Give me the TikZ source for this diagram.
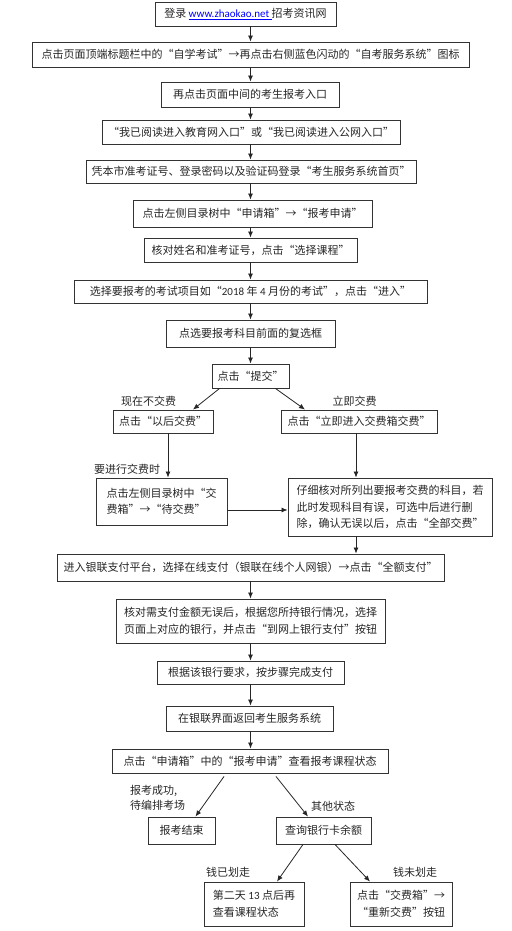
\documentclass[tikz,border=0pt]{standalone}
\usepackage{fontspec}
\newfontfamily\cjk{Noto Sans CJK SC}
\newfontfamily\numfont{Carlito}
\usetikzlibrary{arrows.meta,calc}

\begin{document}
\begin{tikzpicture}[x=1pt, y=-1pt,
    stepbox/.style={draw=black!80, line width=0.9pt, fill=white, inner sep=2pt, font=\cjk\fontsize{11}{16.5}\selectfont, text=black!85, align=#1},
    stepbox/.default={center},
    arr/.style={-{Latex[length=6pt,width=5pt]}, line width=0.8pt, black!85},
    lbl/.style={font=\cjk\fontsize{11}{15}\selectfont, text=black!85, inner sep=0pt, align=left},
]
\useasboundingbox (0,0) rectangle (511,931);
\coordinate (spine) at (250.5, 0);

% ===== MAIN STEPS =====
\node[stepbox, minimum width=181, minimum height=24] (login) at (245.5, 14) {登录 \textcolor{blue}{\underline{\numfont www.zhaokao.net\ }}招考资讯网};
\node[stepbox, minimum width=437, minimum height=25] (zixue) at (250.5, 54.5) {点击页面顶端标题栏中的“自学考试”→再点击右侧蓝色闪动的“自考服务系统”图标};
\node[stepbox, minimum width=178, minimum height=25] (entry) at (250, 94.5) {再点击页面中间的考生报考入口};
\node[stepbox, minimum width=298, minimum height=24] (readme) at (251, 132) {“我已阅读进入教育网入口”或“我已阅读进入公网入口”};
\node[stepbox, minimum width=330, minimum height=23] (signin) at (251, 171.5) {凭本市准考证号、登录密码以及验证码登录“考生服务系统首页”};
\node[stepbox, minimum width=239, minimum height=27] (applybox) at (252.5, 213.5) {点击左侧目录树中“申请箱”→“报考申请”};
\node[stepbox, minimum width=213, minimum height=24] (checkname) at (250.5, 250) {核对姓名和准考证号，点击“选择课程”};
\node[stepbox, minimum width=353, minimum height=23] (exam) at (250.5, 291.5) {选择要报考的考试项目如“{\numfont 2018} 年 {\numfont 4} 月份的考试”，点击“进入”};
\node[stepbox, minimum width=169, minimum height=27] (tick) at (250.5, 333.5) {点选要报考科目前面的复选框};
\node[stepbox, minimum width=77, minimum height=24] (submit) at (250.5, 376) {点击“提交”};

% ===== PAY LATER / PAY NOW =====
\node[stepbox, minimum width=100, minimum height=23] (later) at (163, 421.5) {点击“以后交费”};
\node[stepbox, minimum width=156, minimum height=23] (now) at (359, 421.5) {点击“立即进入交费箱交费”};
\node[stepbox=left, minimum width=131, minimum height=47] (waitpay) at (161.5, 501.5) {点击左侧目录树中“交\\费箱”→“待交费”};
\node[stepbox=left, minimum width=204, minimum height=58] (payall) at (390, 507) {仔细核对所列出要报考交费的科目，若\\此时发现科目有误，可选中后进行删\\除，确认无误以后，点击“全部交费”};

% ===== BANK =====
\node[stepbox, minimum width=387, minimum height=27] (unionpay) at (250.5, 567.5) {进入银联支付平台，选择在线支付（银联在线个人网银）→点击“全额支付”};
\node[stepbox=left, minimum width=269, minimum height=44] (choosebank) at (250.5, 621) {核对需支付金额无误后，根据您所持银行情况，选择\\页面上对应的银行，并点击“到网上银行支付”按钮};
\node[stepbox, minimum width=187, minimum height=23] (finishpay) at (250.5, 672.5) {根据该银行要求，按步骤完成支付};
\node[stepbox, minimum width=167, minimum height=25] (goback) at (249.5, 718.5) {在银联界面返回考生服务系统};
\node[stepbox, minimum width=276, minimum height=24] (status) at (250, 761) {点击“申请箱”中的“报考申请”查看报考课程状态};

% ===== RESULTS =====
\node[stepbox, minimum width=67, minimum height=27] (done) at (181.5, 830.5) {报考结束};
\node[stepbox, minimum width=95, minimum height=27] (balance) at (323.5, 830.5) {查询银行卡余额};
\node[stepbox=left, minimum width=100, minimum height=44] (nextday) at (254, 904) {第二天 {\numfont 13} 点后再\\查看课程状态};
\node[stepbox, minimum width=102, minimum height=44] (repay) at (401, 904) {点击“交费箱”→\\“重新交费”按钮};

% ===== ARROWS =====
\draw[arr] (login.south -| spine) -- (zixue.north -| spine);
\draw[arr] (zixue.south -| spine) -- (entry.north -| spine);
\draw[arr] (entry.south -| spine) -- (readme.north -| spine);
\draw[arr] (readme.south -| spine) -- (signin.north -| spine);
\draw[arr] (signin.south -| spine) -- (applybox.north -| spine);
\draw[arr] (applybox.south -| spine) -- (checkname.north -| spine);
\draw[arr] (checkname.south -| spine) -- (exam.north -| spine);
\draw[arr] (exam.south -| spine) -- (tick.north -| spine);
\draw[arr] (tick.south -| spine) -- (submit.north -| spine);
\draw[arr] ([xshift=8]submit.south west) -- ([xshift=30]later.north);
\draw[arr] ([xshift=-14]submit.south east) -- ([xshift=-54]now.north);
\draw[arr] ([xshift=5]later.south) -- ([xshift=5]later.south |- waitpay.north);
\draw[arr] ([xshift=-3]now.south) -- ([xshift=-3]now.south |- payall.north);
\draw[arr] ([yshift=-8.5]waitpay.east) -- ([yshift=-8.5]waitpay.east -| payall.west);
\draw[arr] ([xshift=-34]payall.south) -- ([xshift=-34]payall.south |- unionpay.north);
\draw[arr] (unionpay.south -| spine) -- (choosebank.north -| spine);
\draw[arr] (choosebank.south -| spine) -- (finishpay.north -| spine);
\draw[arr] (finishpay.south -| spine) -- (goback.north -| spine);
\draw[arr] (goback.south -| spine) -- (status.north -| spine);
\draw[arr] ([xshift=-26, yshift=-3]status.south) -- ([xshift=14]done.north);
\draw[arr] ([xshift=26, yshift=-3]status.south) -- ([xshift=-15.5]balance.north);
\draw[arr] ([xshift=-20.5]balance.south) -- ([xshift=23]nextday.north);
\draw[arr] ([xshift=11.5]balance.south) -- ([xshift=-31]repay.north);

% branch labels
\node[lbl] (notnow) at (148.5, 401) {现在不交费};
\node[lbl] (paynow) at (354.5, 401) {立即交费};
\node[lbl] (wantpay) at (127, 469) {要进行交费时};
\node[lbl, anchor=west] (okmsg) at (130, 797.5) {报考成功,\\待编排考场};
\node[lbl] (othermsg) at (333, 806) {其他状态};
\node[lbl] (paidmsg) at (228, 872) {钱已划走};
\node[lbl] (unpaidmsg) at (415, 872) {钱未划走};

\end{tikzpicture}
\end{document}
